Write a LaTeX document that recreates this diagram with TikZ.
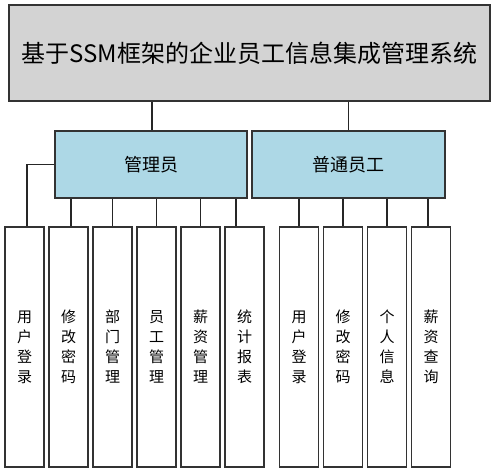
\documentclass[tikz,border=0pt]{standalone}
\usepackage{fontspec}
\newfontfamily\cjk{Noto Sans CJK SC}
\usepackage{tikz}
\usetikzlibrary{positioning,calc}

\definecolor{topgray}{HTML}{D3D3D3}
\definecolor{roleblue}{HTML}{ADD8E6}
\definecolor{edgegray}{HTML}{333333}

\begin{document}
\begin{tikzpicture}[
    x=1pt, y=-1pt,
    box/.style={draw=edgegray, line width=1.3pt, fill=#1, inner sep=0pt, align=center},
    leaf/.style={box=white, minimum width=39pt, minimum height=240pt, font=\cjk\fontsize{15}{20}\selectfont},
    link/.style={draw=black!85, line width=1.3pt}
]
    \useasboundingbox (0,0) rectangle (495,473);

    % System title
    \node[box=topgray, minimum width=481pt, minimum height=96pt, font=\cjk\fontsize{24}{30}\selectfont] (sys) at (249.5,53) {基于SSM框架的企业员工信息集成管理系统};

    % Roles
    \node[box=roleblue, minimum width=192pt, minimum height=67pt, font=\cjk\fontsize{18}{22}\selectfont] (admin) at (151,164.5) {管理员};
    \node[box=roleblue, minimum width=193pt, minimum height=67pt, font=\cjk\fontsize{18}{22}\selectfont] (staff) at (348.5,164.5) {普通员工};

    % Admin functions
    \node[leaf] (alogin)  at (24.5,347)  {用\\户\\登\\录};
    \node[leaf] (apwd)    at (68.5,347)  {修\\改\\密\\码};
    \node[leaf] (dept)    at (112.5,347) {部\\门\\管\\理};
    \node[leaf] (emp)     at (156.5,347) {员\\工\\管\\理};
    \node[leaf] (salary)  at (200.5,347) {薪\\资\\管\\理};
    \node[leaf] (report)  at (244.5,347) {统\\计\\报\\表};

    % Staff functions
    \node[leaf] (slogin)  at (299,347) {用\\户\\登\\录};
    \node[leaf] (spwd)    at (343,347) {修\\改\\密\\码};
    \node[leaf] (info)    at (387,347) {个\\人\\信\\息};
    \node[leaf] (query)   at (431,347) {薪\\资\\查\\询};

    % Title to roles
    \draw[link] ([xshift=1pt]admin.north |- sys.south) -- ([xshift=1pt]admin.north);
    \draw[link] (staff.north |- sys.south) -- (staff.north);

    % Admin branches
    \draw[link] (admin.west) -| ([xshift=2.5pt]alogin.north);
    \draw[link] ([xshift=2.5pt]apwd.north) -- ([xshift=2.5pt]apwd.north |- admin.south);
    \draw[link] (dept.north) -- (dept.north |- admin.south);
    \draw[link] (emp.north) -- (emp.north |- admin.south);
    \draw[link] (salary.north) -- (salary.north |- admin.south);
    \draw[link] ([xshift=-8.5pt]report.north) -- ([xshift=-8.5pt]report.north |- admin.south);

    % Staff branches
    \draw[link] (slogin.north) -- (slogin.north |- staff.south);
    \draw[link] (spwd.north) -- (spwd.north |- staff.south);
    \draw[link] (info.north) -- (info.north |- staff.south);
    \draw[link] ([xshift=-3pt]query.north) -- ([xshift=-3pt]query.north |- staff.south);
\end{tikzpicture}
\end{document}
